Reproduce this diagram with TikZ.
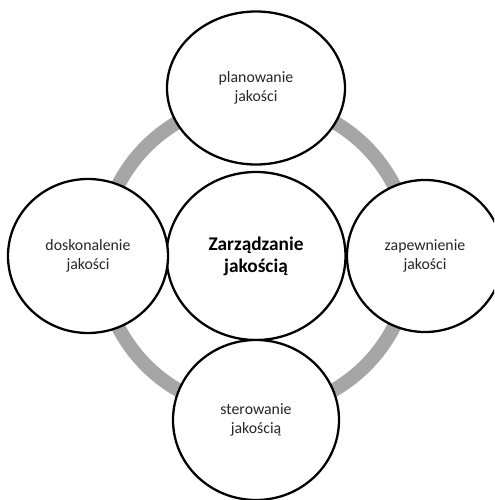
\documentclass[tikz,border=0pt]{standalone}
\usepackage{fontspec}
\setmainfont{Carlito}
\usetikzlibrary{shapes.geometric}
\definecolor{ringgray}{RGB}{166,166,166}
\begin{document}
\begin{tikzpicture}[
    krag/.style={ellipse, draw, line width=1.3pt, fill=white, align=center,
      inner sep=0pt, text=black!85, font=\fontsize{9}{11}\selectfont},
  ]
  \clip (-5.12,-4.88) rectangle (4.76,5.12);
  \fill[white] (-5.12,-4.88) rectangle (4.76,5.12);
  % gray ring behind the circles
  \draw[ringgray, line width=0.28cm] (0,0) circle (3.1);
  \node[krag, minimum width=3.58cm, minimum height=3.36cm, text=black,
    font=\fontsize{11}{12.5}\selectfont\bfseries] (zq) at (0,0) {Zarządzanie\\jakością};
  \draw
    (90:3.36) node[krag, minimum width=3.56cm, minimum height=3.06cm] (plan){planowanie\\jakości}
    (0:3.38) node[krag, minimum width=3.12cm, minimum height=3.04cm] (zap){zapewnienie\\jakości}
    (270:3.28) node[krag, minimum width=3.32cm, minimum height=3.2cm] (ster){sterowanie\\jakością}
    (180:3.36) node[krag, minimum width=3.2cm, minimum height=3.08cm] (dosk){doskonalenie\\jakości};
\end{tikzpicture}
\end{document}
